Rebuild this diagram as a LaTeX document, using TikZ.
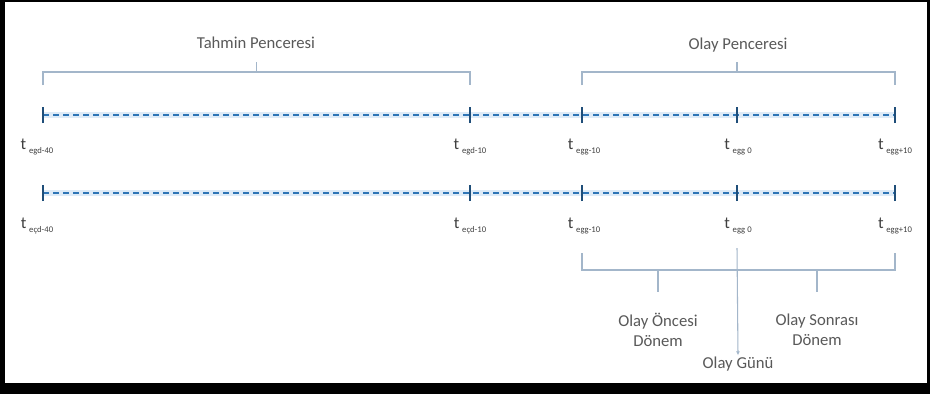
\documentclass[tikz,border=0pt]{standalone}
\usepackage{fontspec}
\setmainfont{Carlito}
\usepackage{xcolor}
\usepackage{tikz}
\usetikzlibrary{arrows.meta,calc}
\definecolor{lineBlue}{HTML}{2E75B6}
\definecolor{tickBlue}{HTML}{1F4E79}
\definecolor{glowBlue}{HTML}{DEEBF7}
\definecolor{braceGray}{HTML}{A3B6CA}
\definecolor{textGray}{HTML}{595959}
\providecommand{\tsub}[1]{t\,\raisebox{-2.5pt}{\fontsize{6.5}{7}\selectfont #1}}

\begin{document}
\begin{tikzpicture}[
    x=0.75pt,y=-0.75pt,
    >={Latex[length=3pt,width=3pt]},
    every node/.style={font=\fontsize{12.5}{15}\selectfont,text=textGray},
    glow/.style={line width=4pt,glowBlue},
    tline/.style={dash pattern=on 4.5pt off 3pt,line width=1.1pt,lineBlue},
    tickmark/.style={line width=1.6pt,tickBlue},
    brace/.style={braceGray,line width=0.8pt},
    tlabel/.style={text=black!75,inner sep=1pt},
    wlabel/.style={align=center,inner sep=1pt}
  ]
  %% frame
  \fill[black] (0,0) rectangle (930,394);
  \fill[white] (5,2) rectangle (927,383);
  \useasboundingbox (0,0) rectangle (930,394);

  %% tick positions on both lines
  \foreach \n/\x in {a/43, b/470, c/582, d/737, e/895} {
    \coordinate (T\n) at (\x,115);
    \coordinate (B\n) at (\x,193);
  }
  \coordinate (Tmid) at ($(Ta)!.5!(Tb)$);

  %% time lines
  \foreach \r in {T,B} {
    \draw[glow] (\r a) -- (\r e);
    \draw[tline] (\r a) -- (\r e);
    \foreach \n in {a,b,c,d,e}
      \draw[tickmark] ([yshift=-6pt]\r\n) -- ([yshift=6pt]\r\n);
  }

  %% labels under the ticks
  \node[tlabel] (Ta lab) at (37,147)  {\tsub{egd-40}};
  \node[tlabel] (Tb lab) at (470,147) {\tsub{egd-10}};
  \node[tlabel] (Tc lab) at (584,147) {\tsub{egg-10}};
  \node[tlabel] (Td lab) at (738,147) {\tsub{egg 0}};
  \node[tlabel] (Te lab) at (895,147) {\tsub{egg+10}};
  \node[tlabel] (Ba lab) at (37,226)  {\tsub{eçd-40}};
  \node[tlabel] (Bb lab) at (470,226) {\tsub{eçd-10}};
  \node[tlabel] (Bc lab) at (584,226) {\tsub{egg-10}};
  \node[tlabel] (Bd lab) at (738,226) {\tsub{egg 0}};
  \node[tlabel] (Be lab) at (895,226) {\tsub{egg+10}};

  %% windows above
  \node[wlabel] (tahmin) at (256,43) {Tahmin Penceresi};
  \node[wlabel] (olay)   at (738,45) {Olay Penceresi};
  \draw[brace] (Ta |- 0,85) -- (Ta |- 0,72) -- (Tb |- 0,72) -- (Tb |- 0,85);
  \draw[brace] (Tc |- 0,85) -- (Tc |- 0,72) -- (Te |- 0,72) -- (Te |- 0,85);
  \draw[brace] (Tmid |- 0,72) -- ++(0,-10);
  \draw[brace] (Td |- 0,72) -- ++(0,-10);

  %% periods below
  \node[wlabel] (oncesi)  at (658,330) {Olay Öncesi\\Dönem};
  \node[wlabel] (sonrasi) at (817,330) {Olay Sonrası\\Dönem};
  \node[wlabel] (gunu)    at (738,364) {Olay Günü};
  \draw[brace] (Bc |- 0,253) -- (Bc |- 0,270) -- (Be |- 0,270) -- (Be |- 0,253);
  \draw[brace] (oncesi.north |- 0,270) -- ++(0,22);
  \draw[brace] (sonrasi.north |- 0,270) -- ++(0,22);
  \draw[brace,->] (Bd |- 0,248) -- (gunu.north);
\end{tikzpicture}
\end{document}
